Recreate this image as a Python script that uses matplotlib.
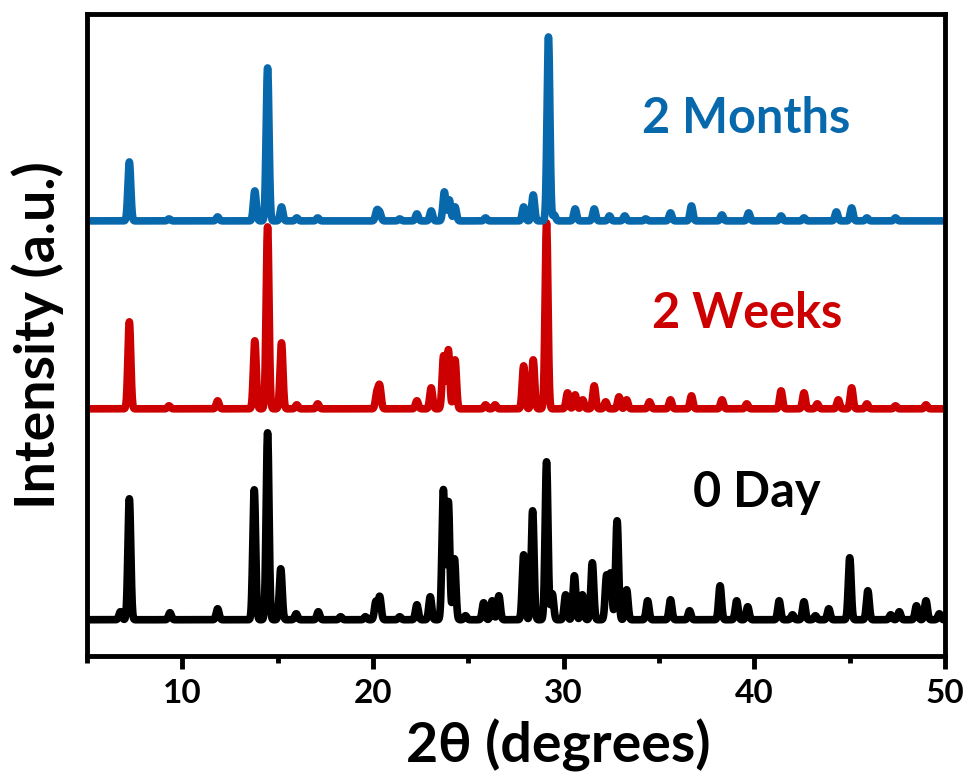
import numpy as np
import matplotlib
matplotlib.use("Agg")
import matplotlib.pyplot as plt

plt.rcParams['font.family'] = ['Lato', 'DejaVu Sans']
plt.rcParams['font.weight'] = 'bold'

# peak positions (2theta, degrees) and heights (a.u.)
day0_pos = [6.75, 7.22, 9.35, 11.85, 13.77, 14.47, 15.16, 15.97, 17.13, 18.3, 19.6,
            20.15, 20.35, 21.4, 22.3, 23.0, 23.69, 23.95, 24.27, 24.85, 25.8, 26.25,
            26.6, 27.9, 28.37, 29.1, 29.4, 30.1, 30.56, 30.98, 31.5, 32.25, 32.46,
            32.8, 33.3, 34.4, 35.6, 36.6, 38.2, 39.07, 39.65, 41.3, 42.0, 42.6, 43.2,
            43.9, 45.0, 45.95, 47.15, 47.6, 48.5, 49.0, 49.7]
day0_int = [8, 121, 7, 11, 130, 187, 51, 6, 8, 3, 3,
            18, 23, 3, 15, 23, 130, 118, 61, 4, 17, 19,
            24, 65, 109, 158, 26, 25, 44, 25, 57, 44, 46,
            99, 30, 19, 20, 9, 34, 19, 13, 19, 5, 18, 4,
            11, 62, 29, 5, 8, 14, 19, 6]

weeks2_pos = [7.22, 9.3, 11.85, 13.8, 14.47, 15.2, 16.0, 17.1, 20.2, 20.35, 22.3,
              23.05, 23.7, 23.95, 24.3, 25.9, 26.4, 27.9, 28.4, 29.1, 30.2, 30.6,
              31.0, 31.6, 32.2, 32.9, 33.3, 34.5, 35.6, 36.7, 38.3, 39.6, 41.4,
              42.6, 43.3, 44.4, 45.1, 45.9, 47.4, 49.0]
weeks2_int = [87, 3, 8, 68, 182, 66, 4, 5, 15, 22, 8,
              21, 53, 59, 49, 4, 4, 43, 49, 186, 16, 14,
              9, 23, 7, 12, 9, 7, 9, 13, 9, 5, 18,
              16, 5, 9, 21, 5, 3, 4]

months2_pos = [7.22, 9.3, 11.85, 13.8, 14.47, 15.2, 16.0, 17.1, 20.2, 20.35, 21.4,
               22.3, 23.05, 23.74, 24.0, 24.3, 25.9, 27.9, 28.4, 29.2, 29.5, 30.6,
               31.6, 32.4, 33.2, 34.3, 35.6, 36.7, 38.3, 39.7, 41.4, 42.6, 44.3,
               45.1, 45.9, 47.4]
months2_int = [59, 2, 4, 30, 153, 14, 3, 3, 10, 8, 2,
               7, 10, 29, 21, 14, 3, 14, 26, 184, 6, 12,
               12, 5, 5, 2, 8, 15, 6, 8, 5, 3, 9,
               13, 3, 3]

labels = ['0 Day', '2 Weeks', '2 Months']
offsets = [36, 247, 435]
colors = ['black', '#cc0000', '#0868ac']

two_theta = np.arange(5, 50.005, 0.01)
width = 0.075


def pattern(pos, inten):
    y = np.zeros_like(two_theta)
    for p, h in zip(pos, inten):
        y += h * np.exp(-0.5 * ((two_theta - p) / width) ** 2)
    return y


fig = plt.figure(figsize=(9.69, 7.76), dpi=100)
ax = fig.add_axes([0.0898, 0.155, 0.8855, 0.827])

series = [(day0_pos, day0_int), (weeks2_pos, weeks2_int), (months2_pos, months2_int)]
for (pos, inten), off, c in zip(series, offsets, colors):
    ax.plot(two_theta, pattern(pos, inten) + off, color=c, lw=5.5,
            solid_joinstyle='round', solid_capstyle='round')

ax.set_xlim(5, 50)
ax.set_ylim(0, 642)
ax.set_xticks([10, 20, 30, 40, 50])
ax.set_xticks([5, 15, 25, 35, 45], minor=True)
ax.set_yticks([])
ax.tick_params(axis='x', which='major', direction='out', length=9, width=3.5,
               labelsize=24, pad=8)
ax.tick_params(axis='x', which='minor', direction='out', length=5, width=3.5)
for s in ax.spines.values():
    s.set_linewidth(3.5)

ax.set_xlabel('2θ (degrees)', fontsize=40, fontweight='bold')
ax.xaxis.set_label_coords(0.549, -0.098)
ax.set_ylabel('Intensity (a.u.)', fontsize=40, fontweight='bold')
ax.yaxis.set_label_coords(-0.027, 0.5)

text_pos = [(0.706, 0.232), (0.659, 0.511), (0.647, 0.815)]
for lab, (tx, ty), c in zip(labels, text_pos, colors):
    ax.text(tx, ty, lab, transform=ax.transAxes, color=c, fontsize=35,
            fontweight='bold', ha='left', va='baseline')

fig.savefig('out.png', dpi=100)
